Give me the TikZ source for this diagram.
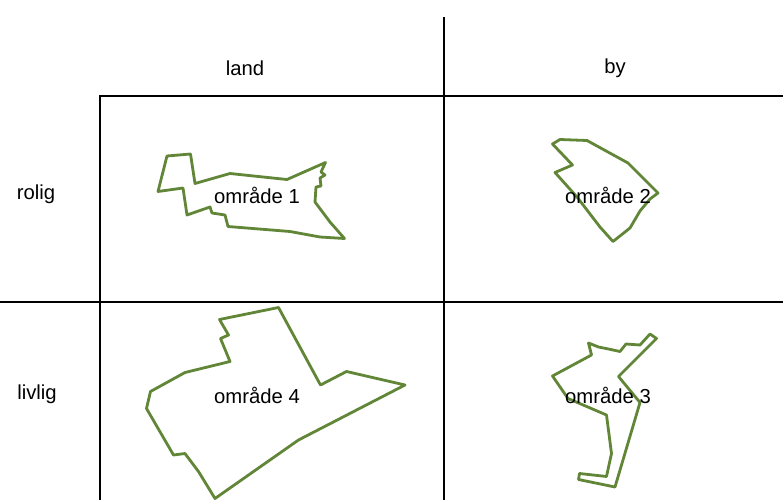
\documentclass[tikz,border=0pt]{standalone}
\usepackage{fontspec}
\setmainfont{Liberation Sans}
\definecolor{areagreen}{RGB}{98,134,55}
\begin{document}
\begin{tikzpicture}[x=0.75pt,y=-0.75pt,
  gridline/.style={line width=1.5pt,black},
  thinline/.style={line width=1pt,black},
  area/.style={draw=areagreen,line width=2.1pt,line join=round},
  lbl/.style={font=\fontsize{15.2}{18}\selectfont,inner sep=0pt}]
\useasboundingbox (0,0) rectangle (783,500);
% grid
\draw[thinline] (444,17) -- (444,96);
\draw[gridline] (100,500) -- (100,96) -- (783,96);
\draw[gridline] (444,96) -- (444,500);
\draw[gridline] (0,302) -- (783,302);
% headers
\node[lbl] (land) at (245,68) {land};
\node[lbl] (by) at (615,68) {by};
\node[lbl] (rolig) at (36,194) {rolig};
\node[lbl] (livlig) at (37,394) {livlig};
% area 1
\draw[area] (167,156) -- (190.5,154) -- (195,183.5) -- (230,173.5) -- (287,179.5) -- (325.5,162.5)
  -- (321,172) -- (325,175) -- (320,178) -- (321,186) -- (316,187) -- (315,202) -- (330,222)
  -- (344.5,238.5) -- (320,237) -- (290,231.5) -- (228,226.5) -- (225,215) -- (212,213) -- (210,207)
  -- (187,215) -- (183,188) -- (158,191.5) -- cycle;
% area 2
\draw[area] (552.5,144) -- (560,139.5) -- (587,140.5) -- (628,163) -- (650,185) -- (658,193)
  -- (650,199) -- (640,211) -- (630,228) -- (613,241.5) -- (600,227) -- (577,197) -- (555,172.5)
  -- (572.5,165) -- cycle;
% area 3
\draw[area] (588.5,343) -- (598.5,347) -- (608.5,349) -- (620,351.5) -- (626,344) -- (640,345)
  -- (650,334) -- (656.5,338.5) -- (618.5,376.5) -- (640,402.5) -- (615,487) -- (578.5,479.5)
  -- (579.5,473.5) -- (606.5,476.5) -- (611.5,453.5) -- (606.5,415) -- (568,398.5) -- (552.5,376)
  -- (591.5,355) -- cycle;
% area 4
\draw[area] (219.5,319.5) -- (278.5,307.5) -- (320.5,385) -- (346.5,371.5) -- (405,385)
  -- (298.5,440) -- (215,498.5) -- (198.5,471.5) -- (185,453.5) -- (173.5,455) -- (146.5,408.5)
  -- (150.5,391.5) -- (185,372.5) -- (230,361.5) -- (220.5,338.5) -- (228.5,335) -- cycle;
% area labels
\node[lbl] (o1) at (257,195) {område 1};
\node[lbl] (o2) at (608,195) {område 2};
\node[lbl] (o3) at (608,395) {område 3};
\node[lbl] (o4) at (257,395) {område 4};
\end{tikzpicture}
\end{document}
